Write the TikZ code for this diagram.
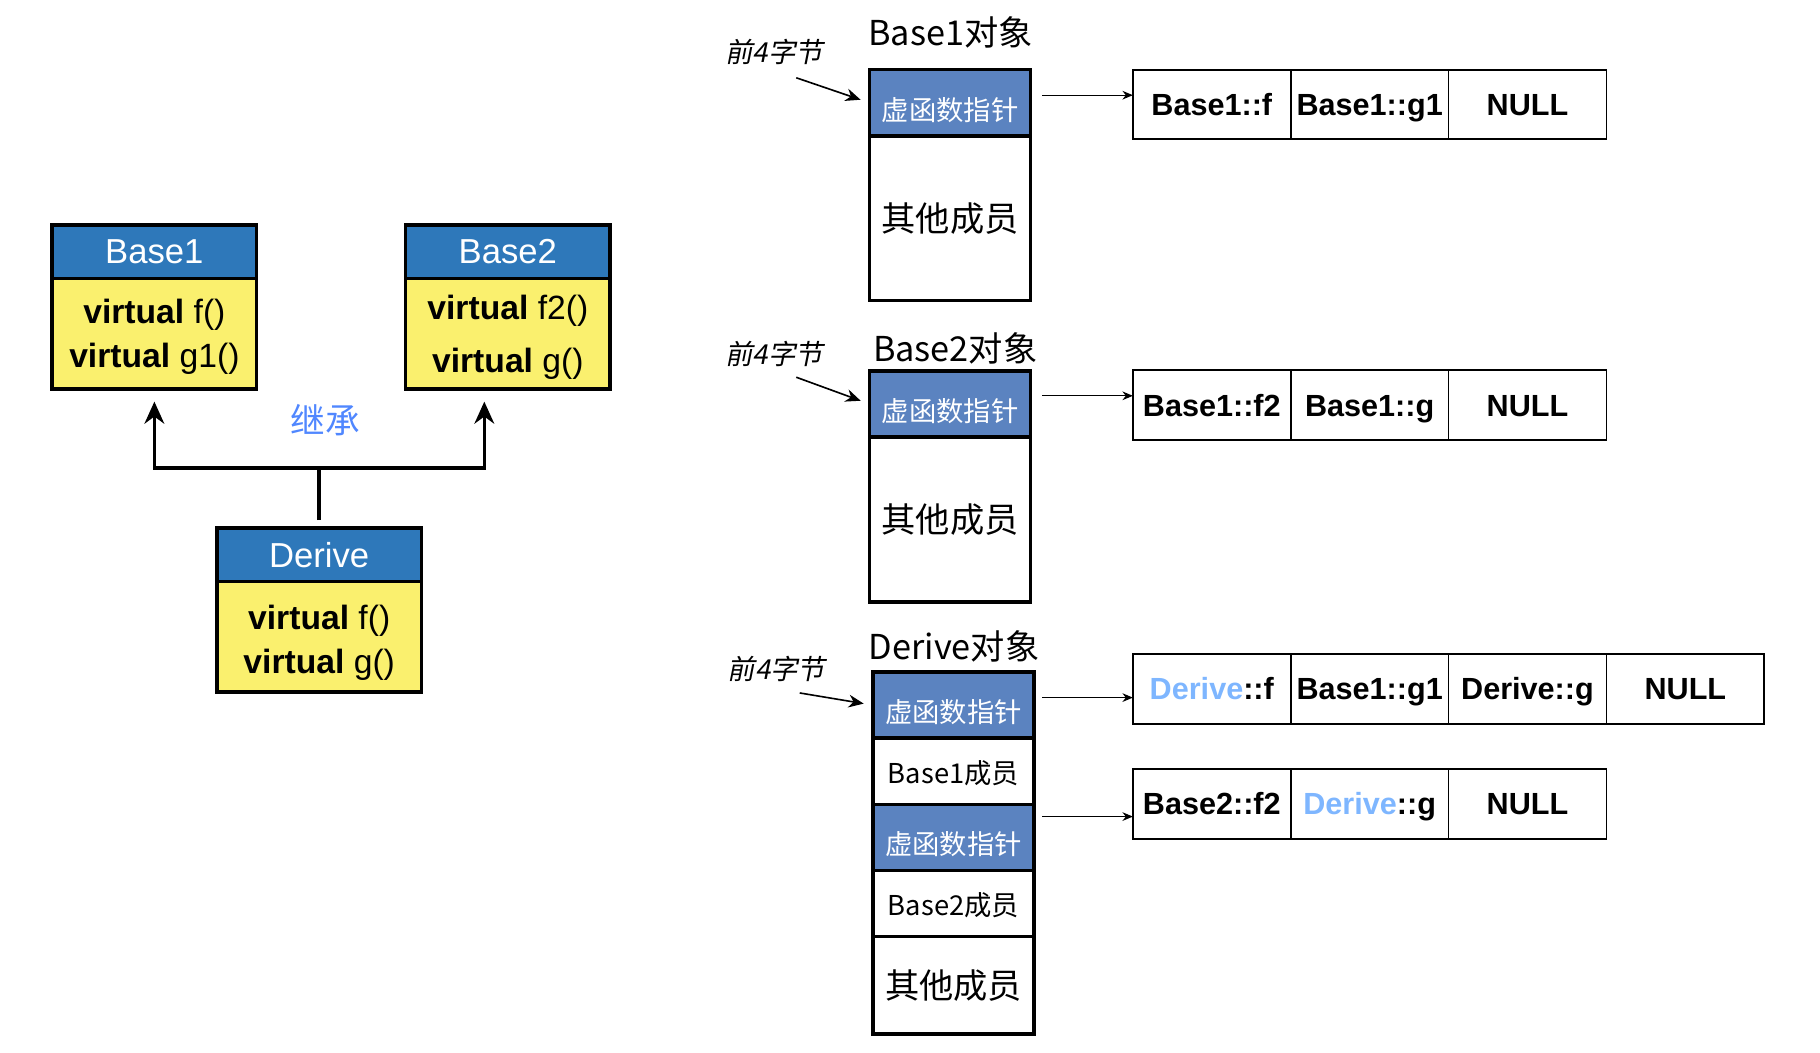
\documentclass[tikz,border=0pt]{standalone}
\usepackage{fontspec}
\setmainfont{Liberation Sans}
\newfontfamily\cjk{Noto Sans CJK SC}
\newfontfamily\cjkslant[FakeSlant=0.2]{Noto Sans CJK SC}
\usepackage{xcolor}
\usepackage{tikz}
\usetikzlibrary{arrows.meta, positioning, calc}
\definecolor{headblue}{RGB}{46,120,186}
\definecolor{boxyellow}{RGB}{250,240,110}
\definecolor{vptrblue}{RGB}{91,131,192}
\definecolor{inhblue}{RGB}{80,135,255}
\definecolor{derblue}{RGB}{126,182,255}

\begin{document}
\begin{tikzpicture}[x=0.2mm, y=-0.2mm, >={Stealth[length=1.8mm, width=1.5mm]}]
    \tikzset{
        head/.style={rectangle, draw=black, line width=1.7pt, fill=headblue, text=white, minimum width=35.2mm, minimum height=9.2mm, inner sep=0pt, outer sep=0pt, font=\fontsize{17}{20}\selectfont},
        body/.style={rectangle, draw=black, line width=1.7pt, fill=boxyellow, minimum width=35.2mm, minimum height=19mm, inner sep=0pt, outer sep=0pt, align=center, text height=35pt, text depth=2pt, font=\fontsize{16.5}{21.5}\selectfont},
        vptr/.style={rectangle, draw=black, line width=1.7pt, fill=vptrblue, text=white, minimum width=27.8mm, minimum height=11.4mm, inner sep=0pt, outer sep=0pt, text height=19pt, text depth=2pt, font=\cjk\fontsize{13.4}{16}\selectfont},
        member/.style={rectangle, draw=black, line width=1.7pt, fill=white, minimum width=27.8mm, minimum height=11.4mm, inner sep=0pt, outer sep=0pt, text height=14pt, text depth=2.2pt, font=\cjk\fontsize{13.4}{16}\selectfont},
        other/.style={rectangle, draw=black, line width=1.7pt, fill=white, minimum width=27.8mm, minimum height=28.4mm, inner sep=0pt, outer sep=0pt, font=\cjk\fontsize{16.8}{20}\selectfont},
        cell/.style={rectangle, draw=black, line width=0.85pt, minimum width=27.2mm, minimum height=12mm, inner sep=0pt, outer sep=0pt, text height=13pt, text depth=2.2pt, font=\bfseries\fontsize{15}{18}\selectfont},
        title/.style={font=\cjk\fontsize{16.8}{20}\selectfont},
        tag/.style={font=\cjkslant\fontsize{13.5}{16}\selectfont},
        inherit/.style={draw, -{Stealth[length=3.8mm, width=3.4mm]}, line width=1.7pt},
        tagline/.style={draw, -{Stealth[length=2.6mm, width=2.2mm]}, line width=0.8pt, shorten >=1.6mm},
        line/.style={draw, ->, line width=0.6pt}
    }
    \useasboundingbox (0,0) rectangle (1568,907);

    % class hierarchy
    \node (Base1Head) [head] at (133,217) {Base1};
    \node (Base1Body) [body, below=0pt of Base1Head] {\textbf{virtual} f()\\\textbf{virtual} g1()};
    \node (Base2Head) [head] at (437.5,217) {Base2};
    \node (Base2Body) [body, text height=40pt, below=0pt of Base2Head] {\textbf{virtual} f2()\\[1.6mm]\textbf{virtual} g()};
    \node (DeriveHead) [head] at (275,478) {Derive};
    \node (DeriveBody) [body, text height=38.4pt, below=0pt of DeriveHead] {\textbf{virtual} f()\\\textbf{virtual} g()};
    \node (Inherit) [font=\cjk\fontsize{17}{20}\selectfont, text=inhblue] at (280,362) {继承};

    \coordinate (Joint) at (275,403);
    \draw [line width=1.7pt, shorten <=1.4mm] (DeriveHead.north) -- (Joint);
    \path [inherit, shorten >=2.2mm] (Joint) -| (Base1Body.south);
    \path [inherit, shorten >=2.2mm] (Joint) -| ($(Base2Body.south west)!0.385!(Base2Body.south east)$);

    % Base1 object
    \node (B1Title) [title] at (819,28) {Base1对象};
    \node (B1Tag) [tag] at (667,45) {前4字节};
    \node (B1Vptr) [vptr] at (818.5,88.5) {虚函数指针};
    \node (B1Other) [other, below=0pt of B1Vptr] {其他成员};
    \node (Vt1A) [cell] at (1044,90) {Base1::f};
    \node (Vt1B) [cell, right=0pt of Vt1A] {Base1::g1};
    \node (Vt1C) [cell, right=0pt of Vt1B] {NULL};

    % Base2 object
    \node (B2Title) [title] at (823,300) {Base2对象};
    \node (B2Tag) [tag] at (667,305) {前4字节};
    \node (B2Vptr) [vptr] at (818.5,348) {虚函数指针};
    \node (B2Other) [other, below=0pt of B2Vptr] {其他成员};
    \node (Vt2A) [cell] at (1044,349) {Base1::f2};
    \node (Vt2B) [cell, right=0pt of Vt2A] {Base1::g};
    \node (Vt2C) [cell, right=0pt of Vt2B] {NULL};

    % Derive object
    \node (DTitle) [title] at (822,557) {Derive对象};
    \node (DTag) [tag] at (669,576) {前4字节};
    \node (DVptrA) [vptr] at (821.5,607.5) {虚函数指针};
    \node (DMem1) [member, below=0pt of DVptrA] {Base1成员};
    \node (DVptrB) [vptr, below=0pt of DMem1] {虚函数指针};
    \node (DMem2) [member, below=0pt of DVptrB] {Base2成员};
    \node (DOther) [other, minimum height=16.8mm, below=0pt of DMem2] {其他成员};
    \node (Vt3A) [cell] at (1044,593.5) {\textcolor{derblue}{Derive}::f};
    \node (Vt3B) [cell, right=0pt of Vt3A] {Base1::g1};
    \node (Vt3C) [cell, right=0pt of Vt3B] {Derive::g};
    \node (Vt3D) [cell, right=0pt of Vt3C] {NULL};
    \node (Vt4A) [cell] at (1044,692.5) {Base2::f2};
    \node (Vt4B) [cell, right=0pt of Vt4A] {\textcolor{derblue}{Derive}::g};
    \node (Vt4C) [cell, right=0pt of Vt4B] {NULL};

    % pointers
    \path [tagline] ([xshift=3.8mm, yshift=-4.4mm]B1Tag.center) -- (B1Vptr.west);
    \path [tagline] ([xshift=3.8mm, yshift=-4mm]B2Tag.center) -- (B2Vptr.west);
    \path [tagline] ([xshift=4mm, yshift=-4.2mm]DTag.center) -- (DVptrA.west);

    \coordinate (P1) at ([xshift=2mm, yshift=1.3mm]B1Vptr.east);
    \coordinate (P2) at ([xshift=2mm, yshift=1.4mm]B2Vptr.east);
    \coordinate (P3) at ([xshift=1.4mm, yshift=1.3mm]DVptrA.east);
    \coordinate (P4) at ([xshift=1.4mm, yshift=3.6mm]DVptrB.east);
    \path [line] (P1) -- (P1 -| Vt1A.west);
    \path [line] (P2) -- (P2 -| Vt2A.west);
    \path [line] (P3) -- (P3 -| Vt3A.west);
    \path [line] (P4) -- (P4 -| Vt4A.west);
\end{tikzpicture}
\end{document}
